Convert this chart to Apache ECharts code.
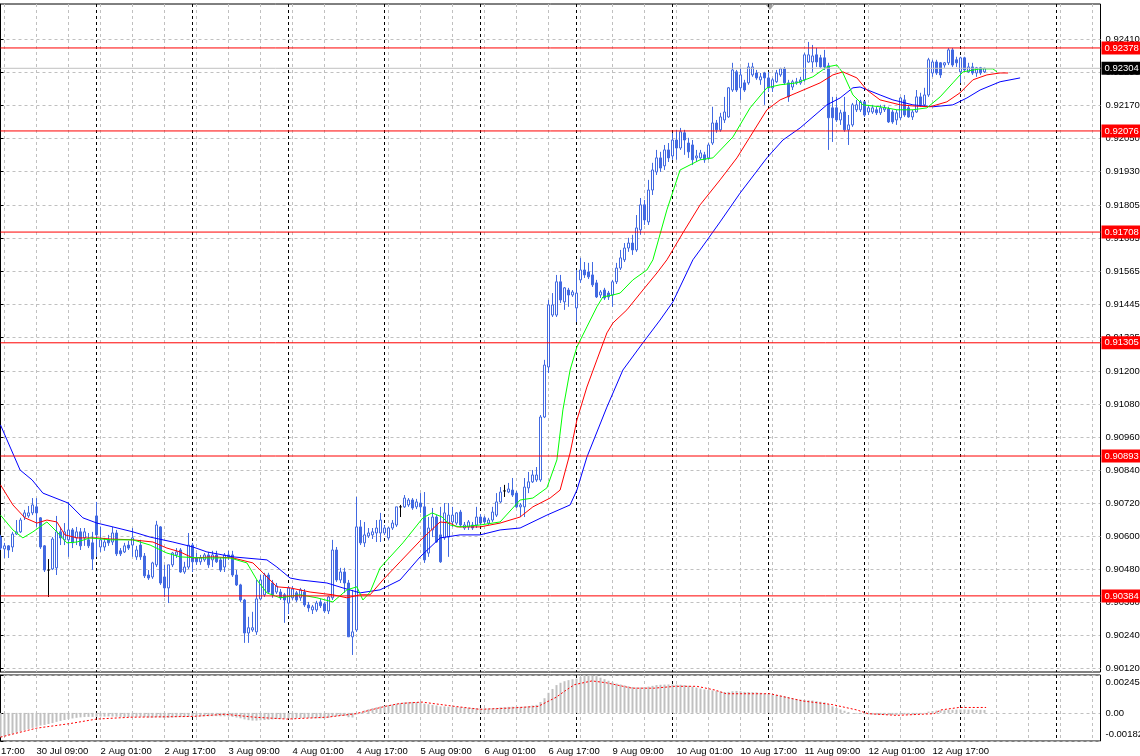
<!DOCTYPE html>
<html><head><meta charset="utf-8">
<script src="https://cdn.jsdelivr.net/npm/echarts@6/dist/echarts.min.js"></script>
<style>html,body{margin:0;padding:0;background:#fff}#c{width:1140px;height:756px}</style>
</head><body><div id="c"></div><script>
// ---- time axis (H1 bars) ----
const days = ['30 Jul','2 Aug','3 Aug','4 Aug','5 Aug','6 Aug','9 Aug','10 Aug','11 Aug','12 Aug','13 Aug','16 Aug'];
const hours = ['00:00','01:00','02:00','03:00','04:00','05:00','06:00','07:00','08:00','09:00','10:00','11:00','12:00','13:00','14:00','15:00','16:00','17:00','18:00','19:00','20:00','21:00','22:00','23:00'];
const slots = 276;
const categories = [];
days.forEach(d => hours.forEach(h => categories.push(d + ' ' + h)));
categories.length = slots;

// ---- OHLC ----
const opens = [.90598,.90555,.90566,.90562,.90609,.90617,.90671,.90675,.90686,.90708,
.90668,.90566,.90478,.90482,.90486,.90617,.90588,.90588,.90624,.90595,
.90617,.90595,.90588,.90577,.90675,.90562,.90562,.90588,.90580,.90613,
.90548,.90544,.90569,.90569,.90526,.90569,.90529,.90460,.90453,.90497,
.90635,.90453,.90413,.90497,.90533,.90551,.90471,.90489,.90569,.90522,
.90508,.90515,.90533,.90515,.90533,.90515,.90489,.90533,.90533,.90460,
.90424,.90369,.90249,.90260,.90253,.90373,.90388,.90460,.90431,.90398,
.90398,.90388,.90358,.90377,.90395,.90377,.90398,.90351,.90333,.90333,
.90362,.90355,.90329,.90377,.90551,.90442,.90471,.90431,.90235,.90260,
.90635,.90577,.90602,.90606,.90613,.90613,.90613,.90595,.90631,.90642,
.90708,.90708,.90715,.90733,.90708,.90722,.90708,.90540,.90624,.90671,
.90606,.90595,.90598,.90653,.90649,.90689,.90631,.90635,.90642,.90642,
.90671,.90668,.90649,.90660,.90678,.90726,.90766,.90762,.90769,.90758,
.90708,.90708,.90777,.90799,.90806,.90806,.91035,.91217,.91406,.91406,
.91527,.91454,.91497,.91479,.91432,.91534,.91570,.91563,.91552,.91523,
.91479,.91497,.91486,.91479,.91527,.91577,.91607,.91650,.91668,.91643,
.91716,.91807,.91745,.91861,.91927,.91978,.91949,.92007,.91985,.92043,
.92014,.92069,.92032,.92025,.91978,.91978,.91989,.91978,.92032,.92105,
.92080,.92116,.92127,.92225,.92291,.92233,.92251,.92251,.92280,.92287,
.92262,.92287,.92269,.92233,.92255,.92280,.92302,.92251,.92236,.92251,
.92251,.92262,.92327,.92327,.92353,.92342,.92342,.92313,.92160,.92160,
.92116,.92145,.92080,.92098,.92153,.92153,.92182,.92145,.92145,.92153,
.92142,.92153,.92156,.92145,.92116,.92124,.92189,.92160,.92127,.92145,
.92200,.92171,.92207,.92287,.92327,.92324,.92316,.92324,.92371,.92335,
.92291,.92342,.92291,.92309,.92287,.92306,.92291];
const closes = [.90558,.90566,.90551,.90609,.90617,.90660,.90686,.90686,.90715,.90686,
.90562,.90478,.90478,.90591,.90617,.90595,.90617,.90624,.90577,.90617,
.90566,.90617,.90566,.90518,.90606,.90588,.90580,.90577,.90613,.90537,
.90537,.90566,.90558,.90595,.90551,.90526,.90457,.90449,.90504,.90642,
.90431,.90413,.90497,.90540,.90544,.90471,.90489,.90569,.90508,.90508,
.90522,.90533,.90497,.90533,.90508,.90478,.90533,.90526,.90460,.90424,
.90369,.90249,.90268,.90268,.90373,.90442,.90460,.90398,.90388,.90420,
.90377,.90369,.90413,.90409,.90369,.90406,.90351,.90340,.90344,.90358,
.90348,.90329,.90380,.90551,.90442,.90471,.90431,.90235,.90253,.90635,
.90577,.90606,.90613,.90617,.90631,.90660,.90631,.90631,.90649,.90708,
.90708,.90740,.90733,.90704,.90726,.90708,.90515,.90631,.90671,.90580,
.90508,.90686,.90678,.90678,.90686,.90642,.90642,.90653,.90631,.90671,
.90649,.90653,.90660,.90689,.90726,.90762,.90766,.90773,.90751,.90708,
.90715,.90780,.90799,.90824,.90824,.91035,.91224,.91443,.91443,.91527,
.91461,.91505,.91479,.91490,.91486,.91570,.91552,.91545,.91516,.91472,
.91490,.91468,.91472,.91527,.91577,.91614,.91650,.91668,.91643,.91723,
.91807,.91752,.91861,.91934,.91978,.91941,.92007,.91978,.92043,.92014,
.92073,.92043,.92000,.91971,.91985,.91996,.91971,.92025,.92105,.92080,
.92127,.92145,.92233,.92298,.92225,.92280,.92225,.92309,.92309,.92269,
.92273,.92269,.92233,.92262,.92287,.92302,.92251,.92200,.92255,.92255,
.92262,.92353,.92353,.92349,.92327,.92309,.92309,.92124,.92124,.92116,
.92142,.92080,.92098,.92171,.92171,.92182,.92134,.92160,.92160,.92142,
.92160,.92160,.92109,.92109,.92142,.92196,.92134,.92127,.92145,.92200,
.92171,.92207,.92335,.92327,.92287,.92280,.92324,.92371,.92316,.92324,
.92342,.92298,.92309,.92287,.92306,.92287,.92304];
const lows = [.90551,.90522,.90522,.90544,.90606,.90613,.90660,.90668,.90678,.90635,
.90555,.90471,.90380,.90478,.90460,.90569,.90569,.90526,.90558,.90569,
.90551,.90566,.90558,.90478,.90526,.90544,.90548,.90566,.90569,.90529,
.90529,.90540,.90551,.90526,.90515,.90515,.90449,.90442,.90446,.90489,
.90424,.90380,.90358,.90489,.90522,.90468,.90464,.90482,.90471,.90497,
.90497,.90508,.90486,.90489,.90504,.90471,.90471,.90515,.90453,.90420,
.90362,.90213,.90213,.90253,.90242,.90369,.90380,.90391,.90377,.90391,
.90369,.90286,.90318,.90369,.90362,.90366,.90344,.90326,.90318,.90326,
.90340,.90322,.90318,.90369,.90435,.90431,.90395,.90235,.90169,.90253,
.90569,.90562,.90595,.90591,.90580,.90580,.90606,.90588,.90624,.90635,
.90671,.90704,.90708,.90697,.90700,.90686,.90504,.90526,.90598,.90577,
.90504,.90588,.90526,.90635,.90642,.90635,.90624,.90624,.90624,.90631,
.90642,.90646,.90642,.90653,.90671,.90722,.90744,.90758,.90744,.90704,
.90671,.90671,.90758,.90795,.90799,.90799,.91031,.91195,.91399,.91399,
.91450,.91425,.91436,.91472,.91381,.91523,.91541,.91537,.91508,.91468,
.91468,.91461,.91461,.91436,.91519,.91570,.91599,.91636,.91625,.91636,
.91698,.91734,.91734,.91843,.91916,.91927,.91934,.91963,.91971,.91971,
.92007,.91989,.91978,.91952,.91963,.91971,.91960,.91971,.92025,.92069,
.92073,.92105,.92124,.92218,.92218,.92189,.92218,.92244,.92273,.92262,
.92244,.92171,.92218,.92218,.92251,.92273,.92244,.92182,.92225,.92244,
.92244,.92255,.92324,.92291,.92309,.92306,.92298,.92007,.92036,.92109,
.92098,.92073,.92025,.92091,.92145,.92145,.92127,.92134,.92138,.92134,
.92134,.92145,.92105,.92102,.92098,.92116,.92127,.92124,.92116,.92142,
.92164,.92164,.92200,.92273,.92280,.92269,.92306,.92316,.92309,.92309,
.92251,.92291,.92287,.92280,.92273,.92280,.92287];
const highs = [.90606,.90577,.90569,.90617,.90660,.90668,.90697,.90711,.90740,.90740,
.90671,.90569,.90518,.90598,.90675,.90635,.90649,.90726,.90631,.90635,
.90631,.90631,.90613,.90617,.90726,.90635,.90595,.90606,.90635,.90624,
.90558,.90577,.90584,.90631,.90566,.90588,.90540,.90478,.90508,.90657,
.90638,.90497,.90497,.90544,.90558,.90558,.90508,.90613,.90577,.90540,
.90533,.90540,.90544,.90548,.90548,.90522,.90540,.90548,.90548,.90478,
.90428,.90373,.90308,.90326,.90442,.90460,.90468,.90468,.90442,.90431,
.90409,.90395,.90420,.90420,.90402,.90413,.90409,.90362,.90351,.90366,
.90373,.90362,.90384,.90588,.90562,.90486,.90486,.90442,.90406,.90744,
.90660,.90653,.90631,.90631,.90660,.90686,.90642,.90635,.90660,.90708,
.90715,.90751,.90740,.90740,.90737,.90758,.90762,.90671,.90704,.90678,
.90708,.90722,.90722,.90708,.90689,.90697,.90653,.90660,.90653,.90708,
.90682,.90675,.90668,.90708,.90758,.90780,.90788,.90795,.90813,.90766,
.90722,.90813,.90835,.90842,.90853,.91042,.91243,.91461,.91486,.91552,
.91552,.91508,.91505,.91497,.91570,.91614,.91599,.91596,.91599,.91534,
.91497,.91505,.91494,.91534,.91596,.91643,.91668,.91687,.91698,.91770,
.91832,.91825,.91898,.91960,.92007,.92000,.92025,.92032,.92069,.92080,
.92087,.92080,.92051,.92043,.92007,.92007,.92000,.92032,.92164,.92116,
.92142,.92200,.92236,.92324,.92298,.92306,.92262,.92324,.92324,.92298,
.92287,.92291,.92291,.92269,.92298,.92306,.92309,.92262,.92262,.92269,
.92273,.92360,.92400,.92389,.92378,.92353,.92371,.92324,.92200,.92200,
.92153,.92200,.92134,.92178,.92189,.92189,.92185,.92171,.92171,.92164,
.92171,.92171,.92164,.92153,.92153,.92200,.92207,.92171,.92153,.92225,
.92215,.92233,.92342,.92335,.92335,.92327,.92327,.92378,.92378,.92346,
.92346,.92346,.92324,.92324,.92309,.92309,.92306];

// ---- Alligator lines [bar index, price] ----
const jaw = [[0,.91006],[4.9,.90842],[7.9,.90806],[10.6,.90758],[16.9,.90722],[20.6,.90668],[24.1,.90649],[28.1,.90635],[33.1,.90617],[37.4,.90598],[43.1,.90580],[48.1,.90562],[51.6,.90544],[58.1,.90526],[66.6,.90515],[69.1,.90489],[72.4,.90449],[74.9,.90442],[81.6,.90431],[85.6,.90413],[89.9,.90395],[94.9,.90406],[99.9,.90442],[104.9,.90526],[109.9,.90595],[114.9,.90606],[119.9,.90606],[124.9,.90624],[129.9,.90631],[136.6,.90678],[142.4,.90715],[144.1,.90769],[146.6,.90889],[151.6,.91071],[155.6,.91206],[160.6,.91305],[164.9,.91388],[168.1,.91454],[173.1,.91607],[174.9,.91643],[179.9,.91745],[184.9,.91850],[191.6,.91978],[195.6,.92043],[199.9,.92087],[206.6,.92171],[209.9,.92196],[213.1,.92233],[214.9,.92236],[219.9,.92207],[223.1,.92189],[228.1,.92171],[233.1,.92164],[238.1,.92171],[241.6,.92196],[244.9,.92225],[249.9,.92255],[254.9,.92269]];
const teeth = [[0,.90788],[3.1,.90715],[6.1,.90668],[9.1,.90649],[11.6,.90660],[14.1,.90653],[16.1,.90606],[19.1,.90595],[24.1,.90595],[27.4,.90591],[33.1,.90588],[38.1,.90580],[41.6,.90558],[44.9,.90544],[48.1,.90522],[53.1,.90526],[58.1,.90522],[63.1,.90504],[65.6,.90468],[69.1,.90417],[72.4,.90413],[77.4,.90398],[83.1,.90388],[86.6,.90377],[89.9,.90388],[92.4,.90388],[95.6,.90442],[99.9,.90508],[105.6,.90595],[109.9,.90653],[112.4,.90649],[114.1,.90635],[119.9,.90635],[124.9,.90649],[129.9,.90671],[133.1,.90708],[137.4,.90740],[139.9,.90769],[142.4,.90904],[144.1,.91024],[146.6,.91144],[149.1,.91243],[151.6,.91341],[153.1,.91377],[156.6,.91425],[160.6,.91497],[164.1,.91559],[166.6,.91607],[170.6,.91705],[174.9,.91807],[179.9,.91898],[184.1,.91978],[191.6,.92153],[194.9,.92189],[199.1,.92215],[204.9,.92251],[208.1,.92280],[210.6,.92291],[214.1,.92269],[216.6,.92225],[219.9,.92189],[224.9,.92171],[228.1,.92167],[232.4,.92164],[236.6,.92182],[239.9,.92215],[243.1,.92262],[246.6,.92280],[249.9,.92287],[251.9,.92287]];
const lips = [[0,.90678],[3.1,.90624],[5.6,.90595],[8.1,.90617],[11.6,.90653],[14.1,.90617],[16.6,.90577],[19.1,.90580],[22.4,.90595],[27.4,.90588],[33.1,.90588],[37.4,.90569],[41.6,.90540],[44.9,.90526],[49.9,.90522],[57.4,.90522],[61.6,.90504],[64.1,.90442],[66.6,.90395],[69.9,.90377],[74.9,.90388],[79.1,.90377],[83.1,.90362],[86.6,.90406],[89.1,.90417],[90.6,.90369],[92.4,.90398],[94.9,.90486],[100.6,.90577],[105.6,.90668],[107.9,.90686],[110.4,.90671],[112.4,.90642],[114.9,.90635],[119.9,.90642],[124.9,.90653],[129.9,.90733],[133.1,.90740],[136.6,.90777],[139.1,.90879],[140.6,.91061],[142.4,.91206],[144.1,.91290],[146.6,.91363],[149.1,.91436],[150.6,.91472],[153.1,.91479],[154.9,.91486],[158.1,.91534],[161.6,.91570],[163.1,.91607],[166.6,.91789],[169.9,.91934],[174.9,.91971],[178.1,.91978],[183.1,.92054],[187.4,.92160],[191.6,.92233],[194.9,.92244],[199.1,.92251],[203.1,.92273],[206.6,.92309],[209.1,.92316],[210.6,.92287],[213.1,.92207],[215.6,.92171],[219.9,.92164],[224.1,.92153],[228.1,.92153],[231.6,.92160],[234.9,.92200],[238.1,.92251],[240.6,.92291],[244.9,.92302],[248.1,.92302],[249.1,.92291]];

// ---- MACD ----
const macdHist = [-0.00158,-0.00150,-0.00143,-0.00135,-0.00128,-0.00120,-0.00112,-0.00105,-0.00097,-0.00090,
-0.00082,-0.00078,-0.00072,-0.00066,-0.00058,-0.00052,-0.00046,-0.00040,-0.00036,-0.00032,
-0.00029,-0.00027,-0.00026,-0.00026,-0.00025,-0.00024,-0.00024,-0.00023,-0.00024,-0.00025,
-0.00026,-0.00027,-0.00027,-0.00026,-0.00025,-0.00025,-0.00027,-0.00030,-0.00031,-0.00028,
-0.00030,-0.00033,-0.00032,-0.00030,-0.00028,-0.00027,-0.00027,-0.00026,-0.00025,-0.00024,
-0.00023,-0.00022,-0.00022,-0.00021,-0.00021,-0.00022,-0.00022,-0.00023,-0.00026,-0.00030,
-0.00035,-0.00042,-0.00047,-0.00050,-0.00050,-0.00048,-0.00046,-0.00044,-0.00042,-0.00040,
-0.00039,-0.00038,-0.00037,-0.00035,-0.00034,-0.00033,-0.00033,-0.00034,-0.00035,-0.00035,
-0.00035,-0.00036,-0.00033,-0.00025,-0.00022,-0.00020,-0.00020,-0.00028,-0.00030,-0.00010,
0.00005,0.00015,0.00023,0.00030,0.00036,0.00042,0.00046,0.00050,0.00054,0.00060,
0.00064,0.00068,0.00070,0.00071,0.00070,0.00069,0.00060,0.00056,0.00052,0.00048,
0.00042,0.00042,0.00040,0.00040,0.00039,0.00037,0.00035,0.00033,0.00032,0.00031,
0.00030,0.00029,0.00029,0.00030,0.00032,0.00035,0.00037,0.00039,0.00040,0.00040,
0.00039,0.00041,0.00044,0.00048,0.00052,0.00070,0.00095,0.00130,0.00155,0.00180,
0.00195,0.00205,0.00212,0.00218,0.00222,0.00232,0.00240,0.00245,0.00243,0.00238,
0.00228,0.00218,0.00208,0.00198,0.00190,0.00184,0.00178,0.00172,0.00168,0.00165,
0.00165,0.00167,0.00170,0.00175,0.00180,0.00182,0.00183,0.00184,0.00184,0.00183,
0.00182,0.00180,0.00176,0.00170,0.00164,0.00158,0.00152,0.00148,0.00146,0.00142,
0.00138,0.00135,0.00136,0.00140,0.00142,0.00140,0.00136,0.00135,0.00134,0.00133,
0.00130,0.00127,0.00123,0.00119,0.00116,0.00112,0.00108,0.00102,0.00096,0.00090,
0.00086,0.00084,0.00082,0.00080,0.00076,0.00072,0.00068,0.00055,0.00042,0.00032,
0.00022,0.00014,0.00006,0.00000,-0.00004,-0.00007,-0.00009,-0.00010,-0.00011,-0.00012,
-0.00012,-0.00012,-0.00013,-0.00014,-0.00013,-0.00010,-0.00010,-0.00010,-0.00011,-0.00008,
-0.00006,-0.00002,0.00008,0.00012,0.00015,0.00016,0.00017,0.00020,0.00020,0.00021,
0.00022,0.00022,0.00021,0.00021,0.00020,0.00020,0.00019];
const macdSignal = [[0,-0.00157],[9,-0.00099],[17.2,-0.00070],[24,-0.00040],[32.6,-0.00028],[48.1,-0.00023],[56.1,-0.00009],[63.6,-0.00028],[71.6,-0.00040],[81.6,-0.00028],[88.9,-0.00005],[96.1,0.00042],[99.9,0.00061],[105.4,0.00070],[113.6,0.00042],[119.9,0.00023],[127.1,0.00031],[134.4,0.00042],[138.9,0.00101],[141,0.00140],[143.5,0.00183],[147.9,0.00207],[151.4,0.00195],[157.9,0.00160],[163.4,0.00160],[168.6,0.00172],[174.1,0.00172],[178.6,0.00148],[181.4,0.00124],[192.4,0.00124],[200.6,0.00077],[207.9,0.00054],[214.1,0.00019],[216.9,-0.00005],[224.1,-0.00016],[233.4,-0.00005],[235.1,0.00019],[239.6,0.00035],[246.4,0.00035]];

// ---- levels and ticks ----
const levels = [0.92378, 0.92076, 0.91708, 0.91305, 0.90893, 0.90384];
const bidPrice = 0.92304;
const priceTicks = ['0.90120','0.90240','0.90360','0.90480','0.90600','0.90720','0.90840','0.90960','0.91080','0.91200','0.91325','0.91445','0.91565','0.91685','0.91805','0.91930','0.92050','0.92170','0.92290','0.92410'];
const macdTicks = ['-0.00182','0.00','0.002453'];

const FONT = '"Liberation Sans",Arial,sans-serif';
const FS = 9.5;
const BLUE = '#4169E1';
const nBars = opens.length;
const candleData = opens.map((o, i) => [o, closes[i], lows[i], highs[i]]);
const grayDash = {show: true, lineStyle: {color: '#c0c0c0', type: [3, 3], width: 1}};
const blackDash = {show: true, lineStyle: {color: '#000', type: [3, 3], width: 1}};

function levelSeries(v, lineColor, boxColor) {
  return {type: 'line', xAxisIndex: 1, yAxisIndex: 0, data: [[0, v], [slots - 1, v]], showSymbol: false, silent: true, z: 6,
    lineStyle: {color: lineColor, width: 1},
    endLabel: {show: true, distance: 1, formatter: () => v.toFixed(5), backgroundColor: boxColor, color: '#fff',
      fontFamily: FONT, fontSize: FS, padding: [2, 4, 1, 3]}};
}

const chart = echarts.init(document.getElementById('c'), null, {renderer: 'canvas'});
const option = {
  animation: false,
  backgroundColor: '#fff',
  grid: [
    {left: 0.5, right: 39.5, top: 4, height: 668, show: true, borderColor: '#000', borderWidth: 1, outerBoundsMode: 'none', containLabel: false},
    {left: 0.5, right: 39.5, top: 675, height: 66, show: true, borderColor: '#000', borderWidth: 1, outerBoundsMode: 'none', containLabel: false}
  ],
  xAxis: [
    {type: 'category', gridIndex: 0, data: categories, boundaryGap: false,
     axisLine: {show: false}, axisTick: {show: false}, axisLabel: {show: false},
     splitLine: Object.assign({interval: (i) => i % 8 === 1}, grayDash)},
    {type: 'value', gridIndex: 0, min: 0, max: slots - 1, interval: 24,
     axisLine: {show: false}, axisTick: {show: false}, axisLabel: {show: false}, splitLine: blackDash},
    {type: 'category', gridIndex: 1, data: categories, boundaryGap: false,
     axisLine: {show: false}, axisTick: {show: false},
     axisLabel: {interval: (i) => i % 16 === 9 && i < nBars, align: 'left', margin: 5, color: '#000', fontFamily: FONT, fontSize: FS},
     splitLine: Object.assign({interval: (i) => i % 8 === 1}, grayDash)},
    {type: 'value', gridIndex: 1, min: 0, max: slots - 1, interval: 24,
     axisLine: {show: false}, axisTick: {show: false}, axisLabel: {show: false}, splitLine: blackDash}
  ],
  yAxis: [
    {type: 'value', gridIndex: 0, position: 'right', min: 0.90107, max: 0.92538,
     axisLine: {show: true, lineStyle: {color: '#000'}},
     axisTick: {show: true, length: 3, inside: false, lineStyle: {color: '#000'}, customValues: priceTicks.map(Number)},
     axisLabel: {customValues: priceTicks.map(Number), margin: 5, color: '#000', fontFamily: FONT, fontSize: FS,
       formatter: (v) => priceTicks.find(t => Math.abs(Number(t) - v) < 1e-7) || v.toFixed(5)},
     splitLine: grayDash},
    {type: 'value', gridIndex: 1, position: 'right', min: -0.00182, max: 0.002453,
     axisLine: {show: true, lineStyle: {color: '#000'}},
     axisTick: {show: true, length: 3, lineStyle: {color: '#000'}, customValues: macdTicks.map(Number)},
     axisLabel: {customValues: macdTicks.map(Number), margin: 5, color: '#000', fontFamily: FONT, fontSize: FS,
       formatter: (v) => v > 0 ? '{t|' + macdTicks[2] + '}' : (v < 0 ? '{b|' + macdTicks[0] + '}' : macdTicks[1]),
       rich: {t: {fontFamily: FONT, fontSize: FS, color: '#000', padding: [15, 0, 0, 0]},
              b: {fontFamily: FONT, fontSize: FS, color: '#000', padding: [0, 0, 13, 0]}}},
     splitLine: grayDash}
  ],
  series: [
    {type: 'candlestick', xAxisIndex: 0, yAxisIndex: 0, data: candleData, barWidth: 3,
     itemStyle: {color: '#fff', color0: BLUE, borderColor: BLUE, borderColor0: BLUE, borderColorDoji: '#000', borderWidth: 1}},
    levelSeries(bidPrice, '#c0c0c0', '#000'),
    ...levels.map(v => levelSeries(v, '#ff0000', '#ff0000')),
    {type: 'line', xAxisIndex: 1, yAxisIndex: 0, data: jaw, showSymbol: false, z: 5, lineStyle: {color: '#0000ff', width: 1}},
    {type: 'line', xAxisIndex: 1, yAxisIndex: 0, data: teeth, showSymbol: false, z: 5, lineStyle: {color: '#ff0000', width: 1}},
    {type: 'line', xAxisIndex: 1, yAxisIndex: 0, data: lips, showSymbol: false, z: 5, lineStyle: {color: '#00ff00', width: 1}},
    {type: 'bar', xAxisIndex: 2, yAxisIndex: 1, data: macdHist, barWidth: 2, itemStyle: {color: '#c0c0c0'}},
    {type: 'line', xAxisIndex: 3, yAxisIndex: 1, data: macdSignal, showSymbol: false, z: 5, lineStyle: {color: '#ff0000', width: 1, type: [2, 2]}}
  ],
  graphic: [
    {type: 'text', left: -27, top: 746, style: {text: '29 Jul 17:00', fill: '#000', font: FS + 'px ' + FONT}},
    {type: 'polygon', shape: {points: [[766, 5], [774, 5], [770, 10]]}, style: {fill: '#a0a0a0'}}
  ]
};
chart.setOption(option);
</script></body></html>
